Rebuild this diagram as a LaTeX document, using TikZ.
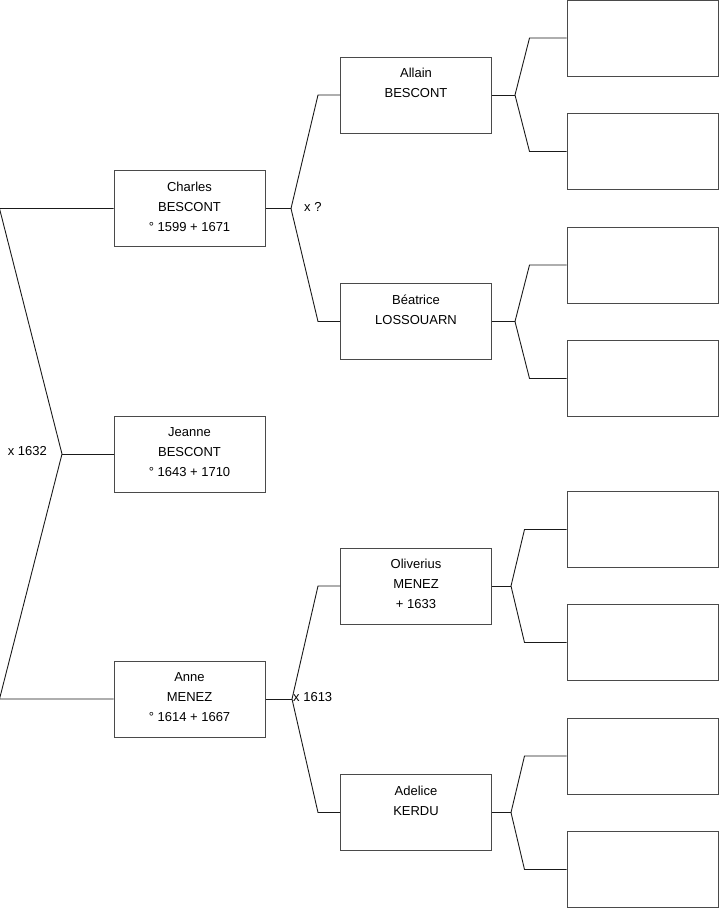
\documentclass[tikz,border=0pt]{standalone}
\usepackage{fontspec}
\setmainfont{Liberation Sans}
\usepackage{tikz}
\usetikzlibrary{positioning,calc}
\definecolor{bgray}{HTML}{4A4A4A}
\definecolor{lblack}{HTML}{1A1A1A}

\begin{document}
\begin{tikzpicture}[x=1pt, y=-1pt,
  pbox/.style={rectangle, draw=bgray, line width=1pt, align=center, inner sep=0pt,
    font=\fontsize{13}{20}\selectfont, minimum width=151pt, minimum height=76pt,
    execute at end node={\rule[-4pt]{0pt}{4pt}}},
  link/.style={draw=lblack, line width=0.9pt},
  marr/.style={inner sep=0pt, font=\fontsize{13}{16}\selectfont}
]
\useasboundingbox (0,0) rectangle (719,908);

% generation 1 and 2
\node[pbox] (jeanne) at (189.5,454) {Jeanne\\BESCONT\\° 1643 + 1710};
\node[pbox] (charles) at (189.5,208.5) {Charles\\BESCONT\\° 1599 + 1671};
\node[pbox] (anne) at (189.5,699) {Anne\\MENEZ\\° 1614 + 1667};

% generation 3
\node[pbox] (allain) at (416,95) {Allain\\BESCONT\\\mbox{}};
\node[pbox] (beatrice) at (416,321.5) {Béatrice\\LOSSOUARN\\\mbox{}};
\node[pbox] (oliverius) at (416,586) {Oliverius\\MENEZ\\+ 1633};
\node[pbox] (adelice) at (416,812.5) {Adelice\\KERDU\\\mbox{}};

% generation 4 (empty)
\node[pbox] (r1) at (642.5,38) {};
\node[pbox] (r2) at (642.5,151.5) {};
\node[pbox] (r3) at (642.5,265) {};
\node[pbox] (r4) at (642.5,378.5) {};
\node[pbox] (r5) at (642.5,529.5) {};
\node[pbox] (r6) at (642.5,642.5) {};
\node[pbox] (r7) at (642.5,756) {};
\node[pbox] (r8) at (642.5,869.5) {};

% fork points
\coordinate (f0) at (62,454);
\coordinate (f1) at (291,208.5);
\coordinate (f2) at (292,699);
\coordinate (fa) at (515,95);
\coordinate (fb) at (515,321.5);
\coordinate (fc) at (511,586);
\coordinate (fd) at (511,812.5);

% marriages
\node[marr, anchor=east] (m0) at (47,451) {x 1632};
\node[marr, anchor=west] (m1) at (304,207) {x ?};
\node[marr, anchor=west] (m2) at (293,697) {x 1613};

\draw[link] (jeanne.west) -- (f0);
\draw[link] (charles.west) -- ++(-114,0) -- (f0) -- ($(anne.west)+(-114,0)$) -- (anne.west);

\draw[link] (charles.east) -- (f1);
\draw[link] (allain.west) -- ++(-22,0) -- (f1) -- ($(beatrice.west)+(-22,0)$) -- (beatrice.west);
\draw[link] (anne.east) -- (f2);
\draw[link] (oliverius.west) -- ++(-22,0) -- (f2) -- ($(adelice.west)+(-22,0)$) -- (adelice.west);

\draw[link] (allain.east) -- (fa);
\draw[link] (r1.west) -- ++(-37,0) -- (fa) -- ($(r2.west)+(-37,0)$) -- (r2.west);
\draw[link] (beatrice.east) -- (fb);
\draw[link] (r3.west) -- ++(-37,0) -- (fb) -- ($(r4.west)+(-37,0)$) -- (r4.west);
\draw[link] (oliverius.east) -- (fc);
\draw[link] (r5.west) -- ++(-42,0) -- (fc) -- ($(r6.west)+(-42,0)$) -- (r6.west);
\draw[link] (adelice.east) -- (fd);
\draw[link] (r7.west) -- ++(-42,0) -- (fd) -- ($(r8.west)+(-42,0)$) -- (r8.west);
\end{tikzpicture}
\end{document}
